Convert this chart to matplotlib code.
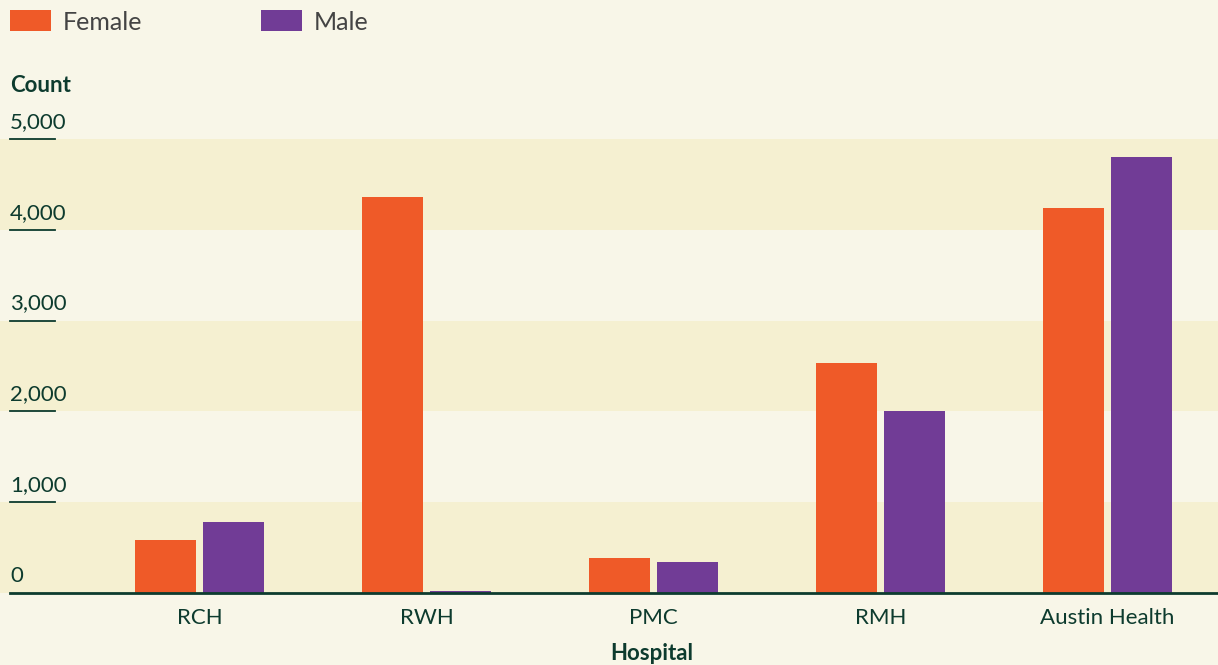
import matplotlib
matplotlib.use("Agg")
import matplotlib.pyplot as plt
from matplotlib.patches import Rectangle
from matplotlib.transforms import blended_transform_factory

# Data
hospitals = ["RCH", "RWH", "PMC", "RMH", "Austin Health"]
female = [584, 4360, 385, 2533, 4240]
male = [782, 22, 341, 2004, 4802]
y_ticks = [0, 1000, 2000, 3000, 4000, 5000]
y_tick_labels = ["0", "1,000", "2,000", "3,000", "4,000", "5,000"]

# Style
BG = "#f8f6e8"
BAND = "#f5f0d1"
FEMALE_C = "#ef5a28"
MALE_C = "#713c96"
INK = "#0d3b2e"
LEGEND_INK = "#444444"
FONT = "Lato"

plt.rcParams["font.family"] = [FONT, "DejaVu Sans"]

W, H = 1218, 665
fig = plt.figure(figsize=(W / 100, H / 100), dpi=100, facecolor=BG)

# Axes geometry in pixels
ax_left, ax_right = 10, 1218
y0_px, y5000_px = 593, 139
ax = fig.add_axes([ax_left / W, (H - y0_px) / H, (ax_right - ax_left) / W,
                   (y0_px - y5000_px) / H])
ax.set_facecolor("none")
ax.set_zorder(1)

# Category spacing
first_center_px, step_px = 199.5, 227.0
x_lo = (ax_left - first_center_px) / step_px
x_hi = (ax_right - first_center_px) / step_px
ax.set_xlim(x_lo, x_hi)
ax.set_ylim(0, 5000)

# Alternating background bands spanning the whole figure width
band_tr = blended_transform_factory(fig.transFigure, ax.transData)
for i in range(len(y_ticks) - 1):
    if i % 2 == 0:
        fig.patches.append(Rectangle((0, y_ticks[i]), 1, y_ticks[i + 1] - y_ticks[i],
                                     transform=band_tr, facecolor=BAND,
                                     edgecolor="none", zorder=-1))

# Bars
bw = 61 / step_px
off = 34 / step_px
xs = list(range(len(hospitals)))
ax.bar([x - off for x in xs], female, width=bw, color=FEMALE_C, zorder=3)
ax.bar([x + off for x in xs], male, width=bw, color=MALE_C, zorder=3)

# Axis styling
for s in ax.spines.values():
    s.set_visible(False)
ax.axhline(0, color=INK, lw=2.0, zorder=4, clip_on=False)
ax.set_yticks([])
ax.set_xticks(xs)
ax.set_xticklabels(hospitals, fontsize=16, color=INK)
ax.tick_params(axis="x", length=0, pad=11)

# Y tick labels above short tick lines
ytr = ax.get_yaxis_transform()
for v, lab in zip(y_ticks, y_tick_labels):
    if v > 0:
        ax.plot([0, 45 / (ax_right - ax_left)], [v, v], color=INK, lw=1.3,
                transform=ytr, clip_on=False, zorder=4)
    ax.annotate(lab, xy=(0, v), xycoords=ytr, xytext=(0, 8), textcoords="offset points",
                ha="left", va="baseline", fontsize=16, color=INK)

# Axis titles
fig.text(10 / W, (H - 92) / H, "Count", fontsize=16, fontweight="bold",
         color=INK, ha="left", va="baseline")
fig.text(652 / W, (H - 660) / H, "Hospital", fontsize=16, fontweight="bold",
         color=INK, ha="center", va="baseline")

# Legend
for x_sw, x_txt, col, name in [(10, 63, FEMALE_C, "Female"), (261, 314, MALE_C, "Male")]:
    fig.patches.append(Rectangle((x_sw / W, (H - 31) / H), 41 / W, 21 / H,
                                 transform=fig.transFigure, facecolor=col,
                                 edgecolor="none"))
    fig.text(x_txt / W, (H - 30) / H, name, fontsize=18, color=LEGEND_INK,
             ha="left", va="baseline")

fig.savefig("out.png", dpi=100, facecolor=BG)
